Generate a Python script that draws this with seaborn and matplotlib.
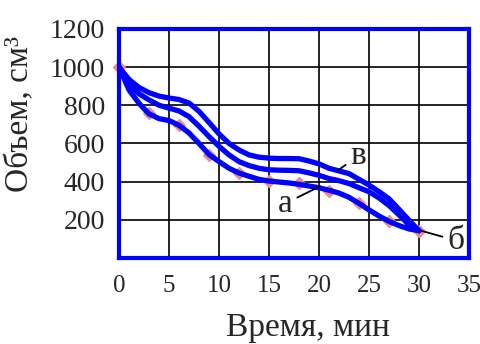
import numpy as np
import pandas as pd
import matplotlib
matplotlib.use("Agg")
import matplotlib.pyplot as plt
import seaborn as sns

# time, min
t = [0, 1, 2, 3, 4, 5, 6, 7, 8, 9, 10, 11, 12, 13, 14, 15,
     16, 17, 18, 19, 20, 21, 22, 23, 24, 25, 26, 27, 28, 29, 30]

# volume, cm3
vol_a = [1000, 880, 810, 755, 730, 720, 695, 655, 600, 542, 505, 470, 445, 428, 412, 403,
         398, 393, 386, 377, 368, 355, 340, 318, 286, 252, 220, 192, 170, 152, 143]
vol_b = [1000, 910, 860, 828, 800, 785, 770, 740, 690, 636, 585, 540, 505, 484, 470, 462,
         460, 459, 457, 446, 433, 416, 405, 390, 368, 347, 315, 275, 226, 174, 143]
vol_v = [1000, 935, 893, 866, 848, 838, 830, 812, 768, 710, 650, 600, 566, 540, 528, 523,
         521, 521, 520, 508, 493, 470, 456, 442, 412, 382, 348, 310, 255, 198, 143]

# measured points
t_pts = [0, 3, 6, 9, 12, 15, 18, 21, 24, 27, 30]
v_pts = [1000, 757, 697, 542, 445, 403, 393, 351, 290, 192, 140]

sns.set_style("white")
plt.rcParams['font.family'] = ['Liberation Serif', 'DejaVu Serif']

df = pd.DataFrame({'t': t * 3,
                   'v': vol_a + vol_b + vol_v,
                   'curve': ['а'] * len(t) + ['б'] * len(t) + ['в'] * len(t)})

fig = plt.figure(figsize=(4.8, 3.44), dpi=100)
ax = fig.add_axes([0.248, 0.25, 0.729, 0.666])

ax.plot(t_pts, v_pts, linestyle='none', marker='D', markersize=6,
        color='#f08a8a', zorder=2, clip_on=False)
sns.lineplot(data=df, x='t', y='v', units='curve', estimator=None,
             color='#0000ff', linewidth=3.8, ax=ax, zorder=3, legend=False)

ax.set_xlim(0, 35)
ax.set_ylim(0, 1200)
ax.set_xticks(range(0, 36, 5))
ax.set_yticks(range(0, 1201, 200))
ax.set_yticklabels(['', '200', '400', '600', '800', '1000', '1200'])
ax.grid(True, color='black', linewidth=1.2)
ax.set_axisbelow(True)

for s in ax.spines.values():
    s.set_color('#0000ff')
    s.set_linewidth(3)
ax.tick_params(axis='both', direction='out', length=4, width=3, color='#0000ff')
ax.tick_params(axis='x', pad=8, labelsize=18)
ax.tick_params(axis='y', pad=6, labelsize=20)

ax.set_xlabel('Время, мин', fontsize=24)
ax.set_ylabel('Объем, см³', fontsize=24)
ax.xaxis.set_label_coords(0.54, -0.24)
ax.yaxis.set_label_coords(-0.24, 0.63)

line_kw = dict(arrowprops=dict(arrowstyle='-', color='black', lw=1.3,
                               shrinkA=1, shrinkB=0), fontsize=24)
ax.annotate('в', xy=(21.9, 459), xytext=(23.1, 491), **line_kw)
ax.annotate('а', xy=(20.1, 376), xytext=(15.9, 242), **line_kw)
ax.annotate('б', xy=(30.2, 143), xytext=(32.8, 49), annotation_clip=False, **line_kw)

fig.savefig('out.png', dpi=100)
